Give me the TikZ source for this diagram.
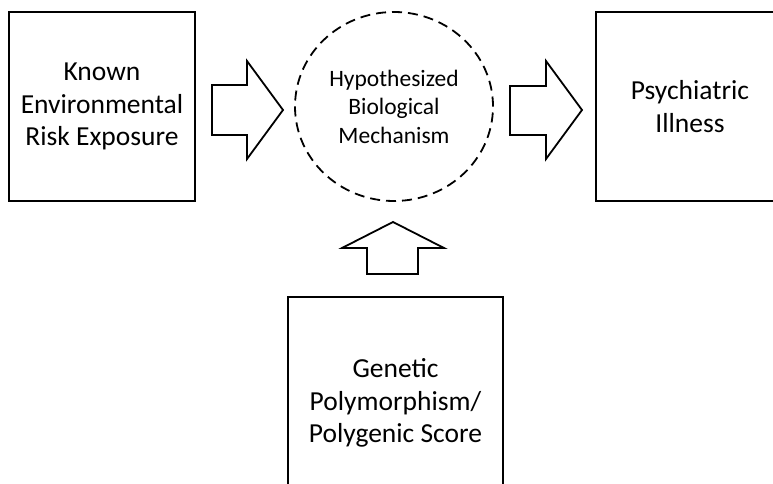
\documentclass[tikz,border=0pt]{standalone}
\usepackage{fontspec}
\setmainfont{Carlito}
\usetikzlibrary{shapes.geometric}
\begin{document}
\begin{tikzpicture}[x=1pt,y=-1pt,
  box/.style={draw, line width=1.8pt, align=center, inner sep=0pt},
  big/.style={font=\fontsize{27.5}{32.5}\selectfont},
  small/.style={font=\fontsize{23.5}{28.5}\selectfont},
  blockarrow/.style={draw, line width=1.8pt, fill=white, line join=miter}]
\useasboundingbox (0,0) rectangle (773,484);
\clip (0,0) rectangle (773,484);
\node[box, big, minimum width=186pt, minimum height=189pt] (env) at (102,106.5) {Known\\Environmental\\Risk Exposure};
\node[ellipse, draw, line width=1.8pt, dash pattern=on 10pt off 6pt, align=center, small, inner sep=0pt, minimum width=198pt, minimum height=189pt] (mech) at (394,106.5) {Hypothesized\\Biological\\Mechanism};
\node[box, big, minimum width=188pt, minimum height=189pt] (ill) at (690,106.5) {Psychiatric\\Illness};
\node[box, big, minimum width=215pt, minimum height=212pt] (gen) at (395.5,403) {Genetic\\Polymorphism/\\Polygenic Score};
\draw[blockarrow] (212,85) -- (247,85) -- (247,61) -- (283,110) -- (247,159) -- (247,135) -- (212,135) -- cycle;
\draw[blockarrow] (510,86) -- (546,86) -- (546,61) -- (582,110) -- (546,159) -- (546,135) -- (510,135) -- cycle;
\draw[blockarrow] (367,274) -- (367,248) -- (342,248) -- (393,222) -- (444,248) -- (418,248) -- (418,274) -- cycle;
\end{tikzpicture}
\end{document}
